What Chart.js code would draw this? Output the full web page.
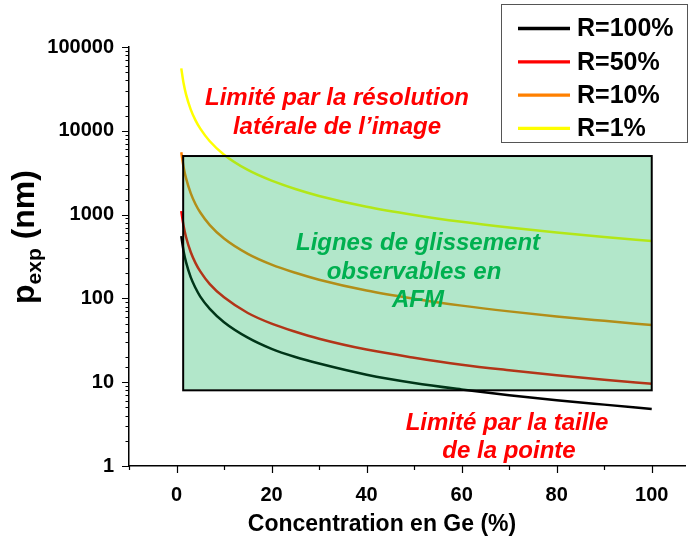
<!DOCTYPE html>
<html>
<head>
<meta charset="utf-8">
<script src="https://cdn.jsdelivr.net/npm/chart.js@4.4.1/dist/chart.umd.min.js"></script>
<style>
  html, body { margin: 0; padding: 0; background: #fff; }
  #wrap { width: 689px; height: 548px; }
</style>
</head>
<body>
<div id="wrap"><canvas id="chart" width="689" height="548"></canvas></div>
<script>
/* ---- data ---------------------------------------------------------- */
const concentration = [1, 1.5, 2, 3, 4, 5, 7, 10, 15, 20, 25, 30, 40, 50, 60, 70, 80, 90, 100];

const pR100 = [553, 364, 271, 178, 133, 105, 75, 52, 34, 25, 20, 16.7, 12.3, 9.8, 8.2, 7.0, 6.1, 5.4, 4.8];
const pR50  = [1100, 725, 540, 355, 264, 210, 148, 103, 67, 50, 40, 33, 24.5, 19.6, 16.2, 13.9, 12.1, 10.7, 9.6];
const pR10  = [5550, 3650, 2720, 1790, 1330, 1060, 750, 518, 340, 253, 202, 167, 124, 99, 82, 70, 61, 54, 48];
const pR1   = [55600, 36600, 27200, 17900, 13300, 10600, 7500, 5190, 3410, 2540, 2020, 1670, 1240, 990, 820, 700, 610, 540, 484];

const seriesLabels = ['R=100%', 'R=50%', 'R=10%', 'R=1%'];
const seriesColors = ['#000000', '#ff0000', '#ff8000', '#ffff00'];

// zone "observable en AFM" (concentration range, p range)
const zoneX = [1.4, 100];
const zoneP = [8, 5000];

const xTickLabels = [0, 20, 40, 60, 80, 100];
const yTickLabels = [1, 10, 100, 1000, 10000, 100000];

/* ---- style --------------------------------------------------------- */
const FONT = '"Liberation Sans", Arial, sans-serif';
const RED = '#ff0000';
const GREEN = '#00b050';

function toPoints(vals) {
  return concentration.map((c, i) => ({ x: c, y: vals[i] }));
}

const allSeries = [pR100, pR50, pR10, pR1];

/* ---- extra drawing: zone, tick marks, titles, notes, legend -------- */
const overlay = {
  id: 'overlay',

  afterDatasetsDraw(chart) {
    const { ctx, scales: { x, y } } = chart;
    const l = x.getPixelForValue(zoneX[0]);
    const r = x.getPixelForValue(zoneX[1]);
    const t = y.getPixelForValue(zoneP[1]);
    const b = y.getPixelForValue(zoneP[0]);
    ctx.save();
    ctx.fillStyle = 'rgba(0, 176, 80, 0.30)';
    ctx.fillRect(l, t, r - l, b - t);
    ctx.strokeStyle = '#000';
    ctx.lineWidth = 2;
    ctx.strokeRect(l, t, r - l, b - t);
    ctx.restore();
  },

  afterDraw(chart) {
    const { ctx, chartArea: area, scales: { x, y } } = chart;
    ctx.save();

    // tick marks (outside), long on majors, short on minors
    ctx.strokeStyle = '#000';
    ctx.lineWidth = 1.2;
    ctx.beginPath();
    y.ticks.forEach(tk => {
      const py = Math.round(y.getPixelForValue(tk.value)) + 0.5;
      const isMajor = yTickLabels.includes(tk.value);
      ctx.moveTo(area.left, py);
      ctx.lineTo(area.left - (isMajor ? 7 : 3.5), py);
    });
    x.ticks.forEach(tk => {
      if (tk.value > 100) return;
      const px = Math.round(x.getPixelForValue(tk.value)) + 0.5;
      const isMajor = xTickLabels.includes(tk.value);
      ctx.moveTo(px, area.bottom);
      ctx.lineTo(px, area.bottom + (isMajor ? 7 : 4));
    });
    ctx.stroke();

    // axis titles
    ctx.fillStyle = '#000';
    ctx.textBaseline = 'middle';
    ctx.textAlign = 'center';
    ctx.font = 'bold 23px ' + FONT;
    ctx.fillText('Concentration en Ge (%)', 382, 525);

    ctx.save();
    ctx.translate(34, 237);
    ctx.rotate(-Math.PI / 2);
    ctx.textAlign = 'left';
    ctx.textBaseline = 'alphabetic';
    const big = 'bold 32px ' + FONT;
    const small = 'bold 21px ' + FONT;
    ctx.font = big;   const wP = ctx.measureText('p').width;
    const wN = ctx.measureText(' (nm)').width;
    ctx.font = small; const wE = ctx.measureText('exp').width;
    let cx = -(wP + wE + wN) / 2;
    ctx.font = big;   ctx.fillText('p', cx, 0); cx += wP;
    ctx.font = small; ctx.fillText('exp', cx, 7); cx += wE;
    ctx.font = big;   ctx.fillText(' (nm)', cx, 0);
    ctx.restore();

    // region notes
    ctx.textAlign = 'center';
    ctx.textBaseline = 'middle';
    ctx.font = 'italic bold 24px ' + FONT;
    ctx.fillStyle = RED;
    ctx.fillText('Limité par la résolution', 337, 98);
    ctx.fillText('latérale de l\u2019image', 337, 127);
    ctx.fillText('Limité par la taille', 507, 423);
    ctx.fillText('de la pointe', 509, 451);
    ctx.fillStyle = GREEN;
    ctx.fillText('Lignes de glissement', 418, 243);
    ctx.fillText('observables en', 414, 272);
    ctx.fillText('AFM', 418, 300);

    // legend box
    ctx.fillStyle = '#fff';
    ctx.fillRect(502, 4, 186, 139);
    ctx.strokeStyle = '#555';
    ctx.lineWidth = 1;
    ctx.strokeRect(501.5, 4.5, 186, 138);
    ctx.font = 'bold 25px ' + FONT;
    ctx.textAlign = 'left';
    seriesLabels.forEach((lab, i) => {
      const ly = 28.5 + i * 33.3;
      ctx.strokeStyle = seriesColors[i];
      ctx.lineWidth = 3.3;
      ctx.beginPath();
      ctx.moveTo(518, ly);
      ctx.lineTo(570, ly);
      ctx.stroke();
      ctx.fillStyle = '#000';
      ctx.fillText(lab, 577, ly + 1);
    });

    ctx.restore();
  }
};

/* ---- chart --------------------------------------------------------- */
new Chart(document.getElementById('chart'), {
  type: 'line',
  data: {
    datasets: allSeries.map((vals, i) => ({
      label: seriesLabels[i],
      data: toPoints(vals),
      borderColor: seriesColors[i],
      borderWidth: 2.5,
      pointRadius: 0,
      cubicInterpolationMode: 'monotone',
      fill: false
    }))
  },
  options: {
    responsive: false,
    animation: false,
    layout: { padding: { left: 0, right: 4, top: 47, bottom: 0 } },
    plugins: {
      legend: { display: false },
      tooltip: { enabled: false }
    },
    scales: {
      x: {
        type: 'linear',
        min: -10,
        max: 107,
        afterFit: s => { s.height = 82; },
        grid: { display: false, drawTicks: false },
        border: { display: true, color: '#000', width: 1.5 },
        ticks: {
          stepSize: 10,
          includeBounds: false,
          autoSkip: false,
          maxRotation: 0,
          padding: 17,
          color: '#000',
          font: { family: FONT, size: 20, weight: 'bold' },
          callback: v => xTickLabels.includes(v) ? String(v) : ''
        }
      },
      y: {
        type: 'logarithmic',
        min: 1,
        max: 100000,
        afterFit: s => { s.width = 129; },
        grid: { display: false, drawTicks: false },
        border: { display: true, color: '#000', width: 1.5 },
        ticks: {
          autoSkip: false,
          padding: 15,
          color: '#000',
          font: { family: FONT, size: 20, weight: 'bold' },
          callback: v => yTickLabels.includes(v) ? String(v) : ''
        }
      }
    }
  },
  plugins: [overlay]
});
</script>
</body>
</html>
